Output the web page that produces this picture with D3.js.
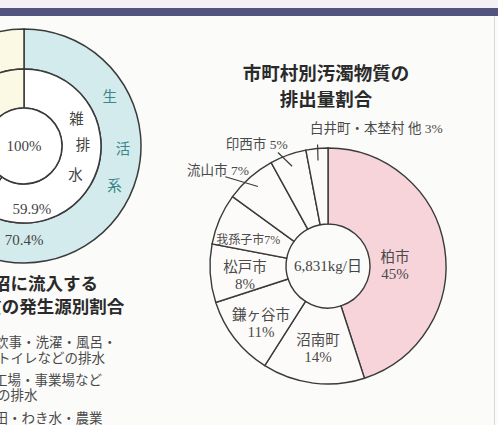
<!DOCTYPE html>
<html>
<head>
<meta charset="utf-8">
<script src="https://cdn.jsdelivr.net/npm/d3@7"></script>
<style>
  html, body { margin: 0; padding: 0; background: #fbfbfa; }
  svg { display: block; }
</style>
</head>
<body>
<div id="chart"></div>
<script>
// left donut: share of pollutant load by source (only the right part is visible)
var sourceLabels = ["生活系", "その他"];
var sourceValues = [70.4, 29.6];
var subLabels = ["雑排水", "し尿", "その他"];
var subValues = [59.9, 10.5, 29.6];
var centerLabel = "100%";

// right pie: pollutant load by municipality
var cities = ["柏市", "沼南町", "鎌ヶ谷市", "松戸市", "我孫子市", "流山市", "印西市", "白井町・本埜村 他"];
var cityShares = [45, 14, 11, 8, 7, 7, 5, 3];
var totalLabel = "6,831kg/日";

var legendLines = ["炊事・洗濯・風呂・", "トイレなどの排水", "工場・事業場など", "の排水", "水田・わき水・農業"];

var W = 498, H = 425;
var serif = "'Liberation Serif', 'DejaVu Serif', 'Noto Sans CJK JP', serif";
var sans = "'Noto Sans CJK JP', 'Noto Sans', sans-serif";
var ink = "#3a3a3a";

var svg = d3.select("#chart").append("svg").attr("width", W).attr("height", H);

// page decoration
svg.append("rect").attr("x", 0).attr("y", 0).attr("width", W).attr("height", 8).attr("fill", "#f3f1f3");
svg.append("rect").attr("x", 0).attr("y", 8).attr("width", W).attr("height", 8).attr("fill", "#51547f");
svg.append("line").attr("x1", 494.5).attr("x2", 494.5).attr("y1", 16).attr("y2", H)
  .attr("stroke", "#d8d8d8").attr("stroke-width", 1);

function polar(cx, cy, deg, r) {
  var a = deg * Math.PI / 180;
  return [cx + r * Math.sin(a), cy - r * Math.cos(a)];
}

// ---------- left donut ----------
var lx = 24, ly = 146, rIn = 38, rMid = 77, rOut = 117;
var pie = d3.pie().sort(null).value(function (d) { return d; });
var left = svg.append("g").attr("transform", "translate(" + lx + "," + ly + ")");

left.selectAll("path.outer").data(pie(sourceValues)).enter().append("path")
  .attr("class", "outer")
  .attr("d", d3.arc().innerRadius(rMid).outerRadius(rOut))
  .attr("fill", function (d, i) { return i === 0 ? "#d4ebee" : "#fbf9e3"; })
  .attr("stroke", ink).attr("stroke-width", 1.5);

left.selectAll("path.mid").data(pie(subValues)).enter().append("path")
  .attr("class", "mid")
  .attr("d", d3.arc().innerRadius(rIn).outerRadius(rMid))
  .attr("fill", function (d, i) { return i === 2 ? "#fbf9e3" : "#ffffff"; })
  .attr("stroke", ink).attr("stroke-width", 1.5);

left.append("circle").attr("r", rIn).attr("fill", "#ffffff").attr("stroke", ink).attr("stroke-width", 1.5);

left.append("text").attr("x", 0).attr("y", 5).attr("text-anchor", "middle")
  .style("font-family", serif).style("font-size", "15px").attr("fill", "#444")
  .text(centerLabel);

// vertical characters along the rings
var outerAngles = [60, 92, 114];
sourceLabels[0].split("").forEach(function (ch, i) {
  var p = polar(0, 0, outerAngles[i], 99);
  left.append("text").attr("x", p[0]).attr("y", p[1] + 5).attr("text-anchor", "middle")
    .style("font-family", serif).style("font-size", "14.5px").attr("fill", "#3a8789").text(ch);
});
var midAngles = [63, 89, 119];
subLabels[0].split("").forEach(function (ch, i) {
  var p = polar(0, 0, midAngles[i], 59);
  left.append("text").attr("x", p[0]).attr("y", p[1] + 5).attr("text-anchor", "middle")
    .style("font-family", serif).style("font-size", "14.5px").attr("fill", "#444").text(ch);
});

var pSub = polar(0, 0, 173, 63.5);
left.append("text").attr("x", pSub[0]).attr("y", pSub[1] + 5).attr("text-anchor", "middle")
  .style("font-family", serif).style("font-size", "15px").attr("fill", "#444")
  .text(subValues[0] + "%");
var pSrc = polar(0, 0, 180, 94);
left.append("text").attr("x", pSrc[0]).attr("y", pSrc[1] + 5).attr("text-anchor", "middle")
  .style("font-family", serif).style("font-size", "15px").attr("fill", "#444")
  .text(sourceValues[0] + "%");

// left title
svg.append("text").attr("x", 28).attr("y", 290).attr("text-anchor", "middle")
  .style("font-family", sans).style("font-size", "17.5px").style("font-weight", "bold").attr("fill", "#2a2a2a")
  .text("手賀沼に流入する");
svg.append("text").attr("x", 28).attr("y", 313).attr("text-anchor", "middle")
  .style("font-family", sans).style("font-size", "17.5px").style("font-weight", "bold").attr("fill", "#2a2a2a")
  .text("汚濁物質の発生源別割合");

// legend text (swatches are cut off)
var legendY = [347, 363, 385, 400, 423];
var legendX = [-5, -3, -6, -3, -19];
svg.selectAll("text.legend").data(legendLines).enter().append("text")
  .attr("class", "legend")
  .attr("x", function (d, i) { return legendX[i]; })
  .attr("y", function (d, i) { return legendY[i]; })
  .style("font-family", serif).style("font-size", "13.5px").attr("fill", "#4a4a4a")
  .text(function (d) { return d; });

// ---------- right pie ----------
var cx = 328, cy = 266, pIn = 42, pOut = 118;

svg.append("text").attr("x", cx - 2).attr("y", 80).attr("text-anchor", "middle")
  .style("font-family", sans).style("font-size", "18.5px").style("font-weight", "bold").attr("fill", "#2a2a2a")
  .text("市町村別汚濁物質の");
svg.append("text").attr("x", cx - 2).attr("y", 106).attr("text-anchor", "middle")
  .style("font-family", sans).style("font-size", "18.5px").style("font-weight", "bold").attr("fill", "#2a2a2a")
  .text("排出量割合");

var arcs = d3.pie().sort(null).value(function (d) { return d; })(cityShares);
var right = svg.append("g").attr("transform", "translate(" + cx + "," + cy + ")");

right.selectAll("path").data(arcs).enter().append("path")
  .attr("d", d3.arc().innerRadius(pIn).outerRadius(pOut))
  .attr("fill", function (d, i) { return i === 0 ? "#f6d4da" : "#fdfbf9"; })
  .attr("stroke", ink).attr("stroke-width", 1.4);

right.append("text").attr("x", 0).attr("y", 5).attr("text-anchor", "middle")
  .style("font-family", serif).style("font-size", "15px").attr("fill", "#444")
  .text(totalLabel);

// labels inside slices: [angle, radius] of label centre
var insidePos = [[89, 67], [187, 82.6], [229.6, 88], [264, 83.5], [288, 85]];
insidePos.forEach(function (pos, i) {
  var p = polar(0, 0, pos[0], pos[1]);
  var t = right.append("text").attr("text-anchor", "middle")
    .style("font-family", serif).style("font-size", "14.5px").attr("fill", "#4a4a4a");
  if (i === 4) {
    t.attr("x", p[0] + 1).attr("y", p[1] + 4).style("font-size", "12px")
      .text(cities[i] + cityShares[i] + "%");
  } else {
    t.append("tspan").attr("x", p[0]).attr("y", p[1] - 3).text(cities[i]);
    t.append("tspan").attr("x", p[0]).attr("y", p[1] + 14).style("font-size", "15px").text(cityShares[i] + "%");
  }
});

// labels outside with leader lines
function midDeg(d) { return (d.startAngle + d.endAngle) / 2 * 180 / Math.PI; }
var outside = [
  { i: 5, lead: [-7.6, 136], text: [319, 120.5], anchor: "end" },
  { i: 6, lead: [-4, 124], text: [341, 124], anchor: "end" },
  { i: 7, lead: [0.5, 122], text: [352.3, 134], anchor: "start" }
];
outside.forEach(function (o) {
  var d = arcs[o.i], m = midDeg(d);
  var a = polar(0, 0, m, 106), b = polar(0, 0, m + o.lead[0], o.lead[1]);
  right.append("line").attr("x1", a[0]).attr("y1", a[1]).attr("x2", b[0]).attr("y2", b[1])
    .attr("stroke", ink).attr("stroke-width", 1.2);
  var p = polar(0, 0, o.text[0], o.text[1]);
  right.append("text").attr("x", p[0]).attr("y", p[1]).attr("text-anchor", o.anchor)
    .style("font-family", serif).style("font-size", "13.5px").attr("fill", "#4a4a4a")
    .text(cities[o.i] + " " + cityShares[o.i] + "%");
});
</script>
</body>
</html>
